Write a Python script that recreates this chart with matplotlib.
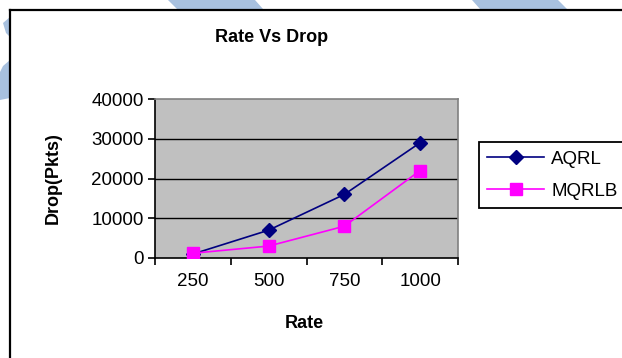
import numpy as np
import matplotlib
matplotlib.use('Agg')
import matplotlib.pyplot as plt
from matplotlib.patches import Polygon
from matplotlib.lines import Line2D

plt.rcParams['font.family'] = ['Liberation Sans', 'DejaVu Sans']

# data
rates = ['250', '500', '750', '1000']
aqrl = [1000, 7000, 16000, 29000]
mqrlb = [1200, 3000, 8000, 22000]
yticks = [0, 10000, 20000, 30000, 40000]

W, H = 622, 358
fig = plt.figure(figsize=(W / 100, H / 100), dpi=100)
fig.patch.set_facecolor('white')


def px(x, y):
    # pixel position (from top-left) -> figure fraction
    return (x / W, 1 - y / H)


# light blue background stripes behind the chart frame
stripe_col = '#a8c1df'
stripes = [
    [(168, 0), (255, 0), (263, 9), (177, 9)],
    [(472, 0), (558, 0), (567, 9), (480, 9)],
    [(10, 17), (3, 23), (6, 33), (10, 37)],
    [(10, 60), (3, 66), (0, 72), (0, 100), (10, 98)],
]
for pts in stripes:
    fig.patches.append(Polygon([px(*p) for p in pts], closed=True,
                               transform=fig.transFigure, facecolor=stripe_col,
                               edgecolor='none', zorder=0))

# chart frame (left and top edges)
fig.add_artist(Line2D([px(10, 0)[0], px(10, 0)[0]], [px(0, 10)[1], 0],
                      transform=fig.transFigure, color='black', lw=1.6, zorder=5))
fig.add_artist(Line2D([px(10, 0)[0], 1], [px(0, 10)[1], px(0, 10)[1]],
                      transform=fig.transFigure, color='black', lw=1.6, zorder=5))

# plot area
left, top, right, bottom = 155, 99, 458, 258
ax = fig.add_axes([left / W, 1 - bottom / H, (right - left) / W, (bottom - top) / H])
ax.set_facecolor('#c0c0c0')

x = np.arange(len(rates))
ax.plot(x, aqrl, color='#000080', marker='D', markersize=7, lw=1.2, label='AQRL', zorder=3)
ax.plot(x, mqrlb, color='#ff00ff', marker='s', markersize=8, lw=1.2, label='MQRLB', zorder=3)

ax.set_xlim(-0.5, len(rates) - 0.5)
ax.set_ylim(0, 40000)

# category axis: ticks between categories, labels centred
ax.set_xticks(np.arange(-0.5, len(rates), 1.0))
ax.set_xticklabels([])
ax.set_xticks(x, minor=True)
ax.set_xticklabels(rates, minor=True)
ax.tick_params(axis='x', which='major', direction='out', length=5, width=1.2, color='black')
ax.tick_params(axis='x', which='minor', length=0, pad=11, labelsize=13.5)

ax.set_yticks(yticks)
ax.set_yticklabels([str(v) for v in yticks])
ax.tick_params(axis='y', direction='out', length=5, width=1.2, pad=3, labelsize=13.5)

for v in yticks[1:-1]:
    ax.axhline(v, color='black', lw=1.0, zorder=1)

for s in ['left', 'bottom']:
    ax.spines[s].set_color('black')
    ax.spines[s].set_linewidth(1.2)
for s in ['top', 'right']:
    ax.spines[s].set_color('#808080')
    ax.spines[s].set_linewidth(1.2)

fig.text(*px(272, 37), 'Rate Vs Drop', ha='center', va='center',
         fontsize=13, fontweight='bold')
fig.text(*px(304, 324), 'Rate', ha='center', va='center',
         fontsize=13, fontweight='bold')
fig.text(*px(53, 178), 'Drop(Pkts)', ha='center', va='center',
         fontsize=13, fontweight='bold', rotation=90)

leg = fig.legend(loc='upper left', bbox_to_anchor=px(479, 142),
                 bbox_transform=fig.transFigure, borderaxespad=0,
                 fontsize=13.5, handlelength=3.0, handletextpad=0.4,
                 labelspacing=0.8, borderpad=0.45, fancybox=False,
                 frameon=True, edgecolor='black', framealpha=1)
leg.get_frame().set_linewidth(1.3)

fig.savefig('out.png', dpi=100, facecolor='white')
